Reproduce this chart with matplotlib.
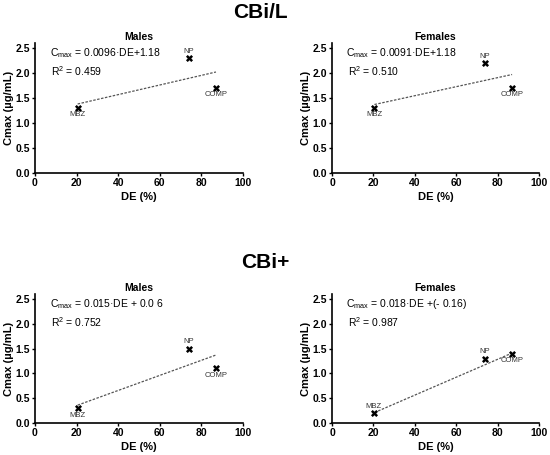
import matplotlib
matplotlib.use("Agg")
import matplotlib.pyplot as plt

plt.rcParams['font.family'] = ['Liberation Sans', 'DejaVu Sans']

# Data
formulations = ["MBZ", "NP", "COMP"]
de_values = [20.5, 74.0, 87.0]

cbil_males = [1.3, 2.3, 1.7]
cbil_females = [1.3, 2.2, 1.7]
cbip_males = [0.3, 1.5, 1.1]
cbip_females = [0.2, 1.3, 1.4]

# trend line endpoints (at DE = 20.5 and 87)
trend_x = [20.5, 87.0]
cbil_males_trend = [1.38, 2.02]
cbil_females_trend = [1.37, 1.97]
cbip_males_trend = [0.36, 1.37]
cbip_females_trend = [0.21, 1.41]

eqs = [
    (r"C$_{\mathregular{max}}$ = 0.0096·DE+1.18", r"R$^{\mathregular{2}}$ = 0.459"),
    (r"C$_{\mathregular{max}}$ = 0.0091·DE+1.18", r"R$^{\mathregular{2}}$ = 0.510"),
    (r"C$_{\mathregular{max}}$ = 0.015·DE + 0.0 6", r"R$^{\mathregular{2}}$ = 0.752"),
    (r"C$_{\mathregular{max}}$ = 0.018·DE +(- 0.16)", r"R$^{\mathregular{2}}$ = 0.987"),
]

W, H = 550, 455
fig = plt.figure(figsize=(W / 100, H / 100), dpi=100)

def rect(left_px, right_px, y0_px, top_px):
    return [left_px / W, 1 - y0_px / H, (right_px - left_px) / W, (y0_px - top_px) / H]

panels = [
    (rect(35, 243, 173, 43), "Males", cbil_males, cbil_males_trend, eqs[0],
     {"MBZ": "below", "NP": "above", "COMP": "below"}),
    (rect(332, 539, 173, 43), "Females", cbil_females, cbil_females_trend, eqs[1],
     {"MBZ": "below", "NP": "above", "COMP": "below"}),
    (rect(35, 243, 423, 294), "Males", cbip_males, cbip_males_trend, eqs[2],
     {"MBZ": "below", "NP": "above", "COMP": "below"}),
    (rect(332, 539, 423, 294), "Females", cbip_females, cbip_females_trend, eqs[3],
     {"MBZ": "aboveleft", "NP": "above", "COMP": "below"}),
]

for r, title, yvals, trend, eq, pos in panels:
    ax = fig.add_axes(r)
    ax.plot(trend_x, trend, linestyle=(0, (2, 1.2)), color='#555555', linewidth=0.9)
    ax.scatter(de_values, yvals, marker='X', s=26, color='black', zorder=3, linewidths=0)
    for name, x, y in zip(formulations, de_values, yvals):
        p = pos[name]
        if p == "above":
            ax.annotate(name, (x, y), xytext=(0, 2.5), textcoords='offset points',
                        ha='center', va='bottom', fontsize=5.5, color='#333333')
        elif p == "below":
            ax.annotate(name, (x, y), xytext=(0, -2.5), textcoords='offset points',
                        ha='center', va='top', fontsize=5.5, color='#333333')
        else:
            ax.annotate(name, (x, y), xytext=(-1, 2.5), textcoords='offset points',
                        ha='center', va='bottom', fontsize=5.5, color='#333333')
    ax.text(0.07, 0.92, eq[0], transform=ax.transAxes, fontsize=7.5, va='center', ha='left')
    ax.text(0.075, 0.78, eq[1], transform=ax.transAxes, fontsize=7.5, va='center', ha='left')
    ax.set_xlim(0, 100)
    ax.set_ylim(0, 2.6)
    ax.set_xticks([0, 20, 40, 60, 80, 100])
    ax.set_yticks([0.0, 0.5, 1.0, 1.5, 2.0, 2.5])
    ax.set_yticklabels(["0.0", "0.5", "1.0", "1.5", "2.0", "2.5"])
    for s in ['top', 'right']:
        ax.spines[s].set_visible(False)
    for s in ['left', 'bottom']:
        ax.spines[s].set_linewidth(1.2)
    ax.tick_params(axis='both', direction='out', length=2.5, width=1, labelsize=7.5, pad=1)
    for lab in ax.get_xticklabels() + ax.get_yticklabels():
        lab.set_fontweight('bold')
    ax.set_xlabel("DE (%)", fontsize=8, fontweight='bold', labelpad=3)
    ax.set_ylabel("Cmax (µg/mL)", fontsize=8, fontweight='bold', labelpad=1)
    ax.set_title(title, fontsize=7.5, fontweight='bold', pad=2.5)

fig.text(260 / W, 1 - 13 / H, "CBi/L", ha='center', va='center', fontsize=15, fontweight='bold')
fig.text(265 / W, 1 - 262 / H, "CBi+", ha='center', va='center', fontsize=15, fontweight='bold')

fig.savefig("out.png", dpi=100)
